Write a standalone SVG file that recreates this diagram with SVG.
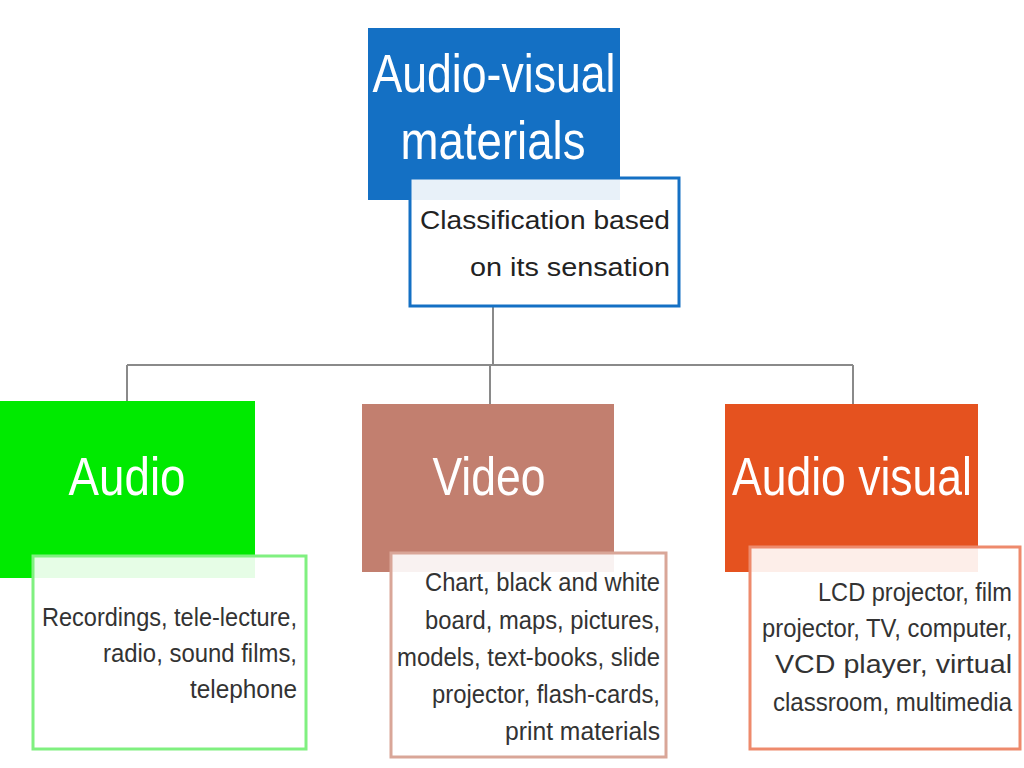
<svg xmlns="http://www.w3.org/2000/svg" width="1024" height="768" viewBox="0 0 1024 768">
<style>
.title{font-family:"Liberation Sans",Arial,sans-serif;fill:#ffffff;font-size:54px;text-anchor:middle}
.lbl{font-family:"Liberation Sans",Arial,sans-serif;fill:#333333;font-size:25px;text-anchor:end}
.sub{font-family:"Liberation Sans",Arial,sans-serif;fill:#222222;font-size:26px;text-anchor:end}
.card{fill:#ffffff;fill-opacity:0.9;stroke-width:3}
.conn{fill:none;stroke:#8a8a8a;stroke-width:2}
</style>
<rect width="1024" height="768" fill="#ffffff"/>
<g id="connectors">
<path class="conn" d="M493 307 V365 M127 365 H853 M127 365 V402 M490 365 V404 M853 365 V404"/>
</g>
<g id="root">
<rect x="368" y="28" width="252" height="172" fill="#1470c4"/>
<text class="title" x="494" y="92" textLength="243" lengthAdjust="spacingAndGlyphs">Audio-visual</text>
<text class="title" x="493" y="159" textLength="185" lengthAdjust="spacingAndGlyphs">materials</text>
</g>
<g id="root-label">
<rect class="card" x="410" y="178" width="269" height="128" stroke="#1470c4"/>
<text class="sub" x="670" y="229" textLength="250" lengthAdjust="spacingAndGlyphs">Classification based</text>
<text class="sub" x="670" y="276" textLength="200" lengthAdjust="spacingAndGlyphs">on its sensation</text>
</g>
<g id="audio">
<rect x="0" y="401" width="255" height="177" fill="#00ea00"/>
<text class="title" x="127" y="495" textLength="117" lengthAdjust="spacingAndGlyphs">Audio</text>
</g>
<g id="audio-label">
<rect class="card" x="33" y="556" width="273" height="193" stroke="#80f080"/>
<text class="lbl" x="297" y="626" textLength="255" lengthAdjust="spacingAndGlyphs">Recordings, tele-lecture,</text>
<text class="lbl" x="297" y="662" textLength="194" lengthAdjust="spacingAndGlyphs">radio, sound films,</text>
<text class="lbl" x="297" y="698" textLength="107" lengthAdjust="spacingAndGlyphs">telephone</text>
</g>
<g id="video">
<rect x="362" y="404" width="252" height="168" fill="#c27f6f"/>
<text class="title" x="489" y="495" textLength="113" lengthAdjust="spacingAndGlyphs">Video</text>
</g>
<g id="video-label">
<rect class="card" x="391" y="553" width="275" height="204" stroke="#d9a698"/>
<text class="lbl" x="660" y="591" textLength="235" lengthAdjust="spacingAndGlyphs">Chart, black and white</text>
<text class="lbl" x="660" y="629" textLength="235" lengthAdjust="spacingAndGlyphs">board, maps, pictures,</text>
<text class="lbl" x="660" y="666" textLength="263" lengthAdjust="spacingAndGlyphs">models, text-books, slide</text>
<text class="lbl" x="660" y="703" textLength="228" lengthAdjust="spacingAndGlyphs">projector, flash-cards,</text>
<text class="lbl" x="660" y="740" textLength="155" lengthAdjust="spacingAndGlyphs">print materials</text>
</g>
<g id="audiovisual">
<rect x="725" y="404" width="253" height="168" fill="#e5521f"/>
<text class="title" x="852" y="495" textLength="240" lengthAdjust="spacingAndGlyphs">Audio visual</text>
</g>
<g id="audiovisual-label">
<rect class="card" x="750" y="547" width="270" height="202" stroke="#ee8a6c"/>
<text class="lbl" x="1012" y="601" textLength="194" lengthAdjust="spacingAndGlyphs">LCD projector, film</text>
<text class="lbl" x="1012" y="637" textLength="250" lengthAdjust="spacingAndGlyphs">projector, TV, computer,</text>
<text class="lbl" x="1012" y="673" textLength="237" lengthAdjust="spacingAndGlyphs">VCD player, virtual</text>
<text class="lbl" x="1012" y="711" textLength="239" lengthAdjust="spacingAndGlyphs">classroom, multimedia</text>
</g>
</svg>
